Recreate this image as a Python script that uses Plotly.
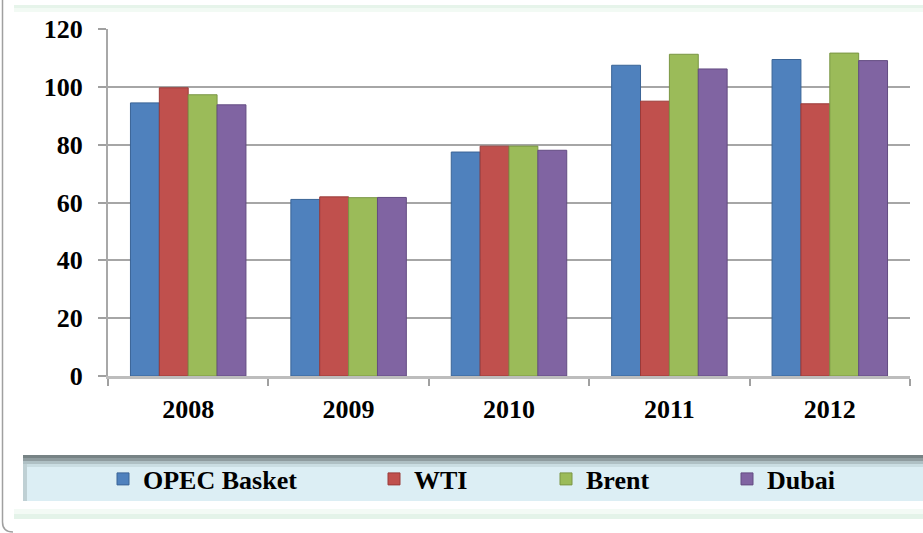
import plotly.graph_objects as go

years = ["2008", "2009", "2010", "2011", "2012"]
opec = [94.45, 61.06, 77.45, 107.46, 109.45]
wti = [99.67, 61.95, 79.48, 95.04, 94.13]
brent = [97.26, 61.67, 79.50, 111.26, 111.67]
dubai = [93.78, 61.75, 78.06, 106.18, 109.07]
series_names = ["OPEC Basket", "WTI", "Brent", "Dubai"]
colors = ["#4F81BD", "#C0504D", "#9BBB59", "#8064A2"]
edge_colors = ["#3A6496", "#9A3A38", "#7A9644", "#634C82"]
y_ticks = [0, 20, 40, 60, 80, 100, 120]

W, H = 923, 533
ML, MR, MT, MB = 108, 13, 29, 157
PW, PH = W - ML - MR, H - MT - MB
FONT = "Liberation Serif"


def px(x):
    return (x - ML) / PW


def py(y):
    return (H - MB - y) / PH


fig = go.Figure()
legend_ids = ["legend", "legend2", "legend3", "legend4"]
for name, vals, c, ec, lg in zip(series_names, [opec, wti, brent, dubai], colors, edge_colors, legend_ids):
    fig.add_trace(go.Bar(
        x=years, y=vals, name=name,
        marker=dict(color=c, line=dict(color=ec, width=1)),
        legend=lg, showlegend=True,
    ))

shapes = []
# legend box with gradient top
shapes.append(dict(type="rect", xref="paper", yref="paper", x0=px(23), x1=px(923), y0=py(455), y1=py(501),
                   fillcolor="#DCEEF4", line=dict(width=0), layer="below"))
for (a, b, col) in [(455, 458, "#778385"), (458, 461, "#8F9C9F"), (461, 464, "#AFC0C4"), (464, 467, "#CADDE2")]:
    shapes.append(dict(type="rect", xref="paper", yref="paper", x0=px(23), x1=px(923), y0=py(a), y1=py(b),
                       fillcolor=col, line=dict(width=0), layer="below"))
shapes.append(dict(type="rect", xref="paper", yref="paper", x0=px(23), x1=px(27), y0=py(464), y1=py(501),
                   fillcolor="#BFD0D4", line=dict(width=0), layer="below"))
# top / bottom mint bands
for (a, b, col) in [(5, 8, "#E6F4EA"), (8, 12, "#F2FAF4"), (509, 514, "#F3FAF5"), (514, 519, "#E4F3E9")]:
    shapes.append(dict(type="rect", xref="paper", yref="paper", x0=px(14), x1=px(923), y0=py(a), y1=py(b),
                       fillcolor=col, line=dict(width=0), layer="below"))
# left border with rounded bottom corner
x0, x1 = px(2.5), px(13)
shapes.append(dict(type="path", xref="paper", yref="paper",
                   path=f"M {x0} {py(0)} L {x0} {py(522)} Q {x0} {py(532)} {x1} {py(532)}",
                   line=dict(color="#A0A0A0", width=1.5), layer="below"))

fig.update_layout(
    width=W, height=H,
    margin=dict(l=ML, r=MR, t=MT, b=MB),
    paper_bgcolor="white", plot_bgcolor="white",
    barmode="group", bargap=0.28, bargroupgap=0,
    showlegend=True,
    font=dict(family=FONT, size=26, color="black"),
    shapes=shapes,
    xaxis=dict(
        tickfont=dict(family=FONT, size=26, color="black", weight="bold"),
        showline=True, linecolor="#BDBDBD", linewidth=3,
        ticks="outside", tickson="boundaries", ticklen=7, tickcolor="#A0A0A0", tickwidth=1.5,
        showgrid=False, ticklabelstandoff=8,
    ),
    yaxis=dict(
        range=[0, 120], tickvals=y_ticks,
        tickfont=dict(family=FONT, size=26, color="black", weight="bold"),
        showline=True, linecolor="#A8A8A8", linewidth=2,
        ticks="outside", ticklen=8, tickcolor="#A0A0A0", tickwidth=1.5,
        showgrid=True, gridcolor="#A6A6A6", gridwidth=2,
        zeroline=False, ticklabelstandoff=10,
    ),
)

leg_x = [103, 374, 546, 727]
for lg, lx in zip(legend_ids, leg_x):
    fig.update_layout({lg: dict(
        xref="container", yref="container", x=lx / W, y=1 - 479 / H,
        xanchor="left", yanchor="middle", orientation="h",
        bgcolor="rgba(0,0,0,0)", borderwidth=0,
        font=dict(family=FONT, size=26, color="black", weight="bold"),
    )})

fig.write_html("out.html", config={"displayModeBar": False},
               post_script="document.body.style.margin='0';")
